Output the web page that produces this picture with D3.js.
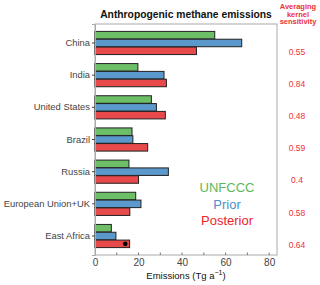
<!DOCTYPE html>
<html>
<head>
<meta charset="utf-8">
<script src="https://cdn.jsdelivr.net/npm/d3@7"></script>
<style>
body { margin: 0; background: #fff; }
text { font-family: "Liberation Sans", Arial, sans-serif; }
</style>
</head>
<body>
<svg width="320" height="285"></svg>
<script>
// values (Tg a-1)
var regions = ["China", "India", "United States", "Brazil", "Russia", "European Union+UK", "East Africa"];
var unfccc = [55, 19.7, 25.9, 17, 15.6, 18.7, 7.5];
var prior = [67.4, 31.7, 28.2, 17.4, 33.7, 21.1, 9.6];
var posterior = [46.6, 32.8, 32.3, 24.2, 20, 16, 15.9];
var sensitivity = ["0.55", "0.84", "0.48", "0.59", "0.4", "0.58", "0.64"];
var seriesNames = ["UNFCCC", "Prior", "Posterior"];
var xTicks = [0, 20, 40, 60, 80];
var eastAfricaDot = 13.9;

var margin = {top: 24, right: 43, bottom: 30, left: 95};

var svg = d3.select("svg"),
    width = +svg.attr("width"),
    height = +svg.attr("height");

var x0 = margin.left, x1 = width - margin.right,
    y0 = margin.top, y1 = height - margin.bottom;

var x = d3.scaleLinear().domain([0, 83.6]).range([x0, x1]);
var y = d3.scaleBand().domain(regions).range([y0, y1])
    .paddingInner(0.28).paddingOuter(0.23);
var ySub = d3.scaleBand().domain(seriesNames).range([0, y.bandwidth()]).paddingInner(0.04);

var fill = {UNFCCC: "#6dbf67", Prior: "#5b98cc", Posterior: "#e84a4c"};
var textCol = {UNFCCC: "#5cb85a", Prior: "#4a8fd0", Posterior: "#ee2528"};

var rows = regions.map(function (r, i) {
    return {region: r, UNFCCC: unfccc[i], Prior: prior[i], Posterior: posterior[i]};
});

// frame
svg.append("rect")
    .attr("x", x0).attr("y", y0)
    .attr("width", x1 - x0).attr("height", y1 - y0)
    .attr("fill", "none").attr("stroke", "#aaa").attr("stroke-width", 1);

// bars
var group = svg.selectAll(".grp")
    .data(rows)
    .enter().append("g")
    .attr("class", "grp")
    .attr("transform", function (d) { return "translate(0," + y(d.region) + ")"; });

group.selectAll("rect")
    .data(function (d) {
        return seriesNames.map(function (s) { return {key: s, value: d[s]}; });
    })
    .enter().append("rect")
    .attr("x", x(0))
    .attr("y", function (d) { return ySub(d.key); })
    .attr("width", function (d) { return x(d.value) - x(0); })
    .attr("height", ySub.bandwidth())
    .attr("fill", function (d) { return fill[d.key]; })
    .attr("stroke", "#222")
    .attr("stroke-width", 1);

// black dot on East Africa posterior
svg.append("circle")
    .attr("cx", x(eastAfricaDot))
    .attr("cy", y("East Africa") + ySub("Posterior") + ySub.bandwidth() / 2)
    .attr("r", 2.3)
    .attr("fill", "#000");

// y axis
var yAxis = svg.append("g")
    .attr("transform", "translate(" + x0 + ",0)")
    .call(d3.axisLeft(y).tickSize(3).tickPadding(2));
yAxis.select(".domain").attr("stroke", "#aaa");
yAxis.selectAll("line").attr("stroke", "#444");
yAxis.selectAll("text")
    .attr("fill", "#444")
    .style("font-size", "9.4px")
    .style("font-family", "Liberation Sans, Arial, sans-serif");

// x axis with inward minor ticks
var xAxis = svg.append("g")
    .attr("transform", "translate(0," + y1 + ")")
    .call(d3.axisBottom(x).tickValues(xTicks).tickSize(0).tickPadding(4));
xAxis.select(".domain").remove();
xAxis.selectAll("text")
    .attr("fill", "#444")
    .style("font-size", "10px")
    .style("font-family", "Liberation Sans, Arial, sans-serif");
svg.append("g").selectAll("line")
    .data(d3.range(10, 81, 10))
    .enter().append("line")
    .attr("x1", function (d) { return x(d); })
    .attr("x2", function (d) { return x(d); })
    .attr("y1", y1).attr("y2", y1 - 2.5)
    .attr("stroke", "#777");

// x label
var xl = svg.append("text")
    .attr("x", (x0 + x1) / 2)
    .attr("y", height - 6)
    .attr("text-anchor", "middle")
    .style("font-size", "9.5px")
    .attr("fill", "#111")
    .text("Emissions (Tg a");
xl.append("tspan").attr("dy", -4).style("font-size", "7px").text("\u22121");
xl.append("tspan").attr("dy", 4).text(")");

// title
svg.append("text")
    .attr("x", (x0 + x1) / 2)
    .attr("y", 18)
    .attr("text-anchor", "middle")
    .style("font-size", "10.3px")
    .style("font-weight", "bold")
    .attr("fill", "#111")
    .text("Anthropogenic methane emissions");

// legend
svg.append("g").selectAll("text")
    .data(seriesNames)
    .enter().append("text")
    .attr("x", 227)
    .attr("y", function (d, i) { return 192 + i * 16.5; })
    .attr("text-anchor", "middle")
    .style("font-size", "13px")
    .attr("fill", function (d) { return textCol[d]; })
    .text(function (d) { return d; });

// averaging kernel column
svg.append("g").selectAll("text")
    .data(["Averaging", "kernel", "sensitivity"])
    .enter().append("text")
    .attr("x", 298)
    .attr("y", function (d, i) { return 9 + i * 7.5; })
    .attr("text-anchor", "middle")
    .style("font-size", "7.5px")
    .style("font-weight", "bold")
    .attr("fill", "#ee3035")
    .text(function (d) { return d; });

svg.append("g").selectAll("text")
    .data(regions)
    .enter().append("text")
    .attr("x", 297)
    .attr("y", function (d) { return y(d) + ySub("Posterior") + ySub.bandwidth() / 2 + 4; })
    .attr("text-anchor", "middle")
    .style("font-size", "8.5px")
    .attr("fill", "#ee3035")
    .text(function (d, i) { return sensitivity[i]; });
</script>
</body>
</html>
